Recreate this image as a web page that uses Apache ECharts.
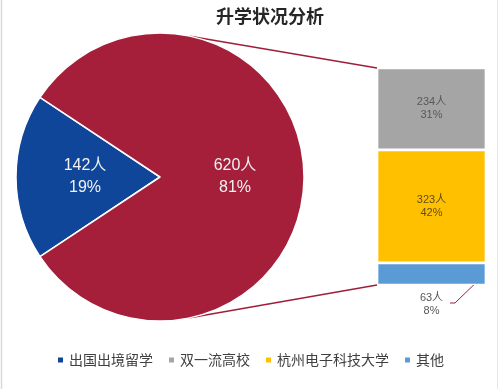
<!DOCTYPE html>
<html>
<head>
<meta charset="utf-8">
<script src="https://cdn.jsdelivr.net/npm/echarts@6/dist/echarts.min.js"></script>
<style>html,body{margin:0;padding:0;background:#fff;}#c{width:500px;height:389px;}</style>
</head>
<body>
<div id="c"></div>
<script>
// ---- data ----
const titleText = '升学状况分析';
const pieNames = ['出国出境留学', '国内升学'];
const pieValues = [142, 620];
const barNames = ['其他', '杭州电子科技大学', '双一流高校']; // bottom to top
const barValues = [63, 323, 234];
const legendNames = ['出国出境留学', '双一流高校', '杭州电子科技大学', '其他'];
const unit = '人';

// ---- styles / layout ----
const pieColors = ['#0F4699', '#A51F3B'];
const barColors = ['#5B9BD5', '#FFC000', '#A5A5A5'];
const barLabelColors = ['#595959', '#5E4E1E', '#595959'];
const cx = 160, cy = 177, R = 144;
const G = { left: 377, top: 68, width: 109, height: 217 };
const lineColor = '#9E1F3A';
const numFont = '"Liberation Sans", "Noto Sans CJK SC", sans-serif';

const total = pieValues.reduce((a, b) => a + b, 0);
const barTotal = barValues.reduce((a, b) => a + b, 0);
const smallFrac = pieValues[0] / total;
const startAngle = 180 + smallFrac * 360 / 2;

const chart = echarts.init(document.getElementById('c'), null, { renderer: 'canvas' });

const barSeries = barNames.map((n, i) => ({
  name: n,
  type: 'bar',
  stack: 'total',
  barWidth: '100%',
  xAxisIndex: 0, yAxisIndex: 0,
  data: [barValues[i]],
  itemStyle: { color: barColors[i], borderColor: '#fff', borderWidth: 1.35 },
  label: {
    show: true,
    position: i === 0 ? 'bottom' : 'inside',
    distance: 6,
    formatter: p => p.value + unit + '\n' + Math.round(p.value / total * 100) + '%',
    fontSize: 11,
    lineHeight: 13,
    color: barLabelColors[i],
    fontFamily: numFont
  }
}));

// connector geometry
const ang = 78 * Math.PI / 180;
const topPt = [cx + R * Math.cos(ang), cy - R * Math.sin(ang)];
const botPt = [cx + R * Math.cos(ang), cy + R * Math.sin(ang)];
const yScale = G.height / barTotal;
const barTopY = G.top;
const barBotY = G.top + G.height;
const smallMidY = barBotY - (barValues[0] / 2) * yScale;

chart.setOption({
  animation: false,
  backgroundColor: '#fff',
  title: {
    text: titleText,
    left: 211, top: 2,
    textStyle: { fontSize: 18, fontWeight: 'bold', color: '#262626', fontFamily: '"Noto Sans CJK SC", sans-serif' }
  },
  legend: {
    data: legendNames,
    left: 'center', top: 348,
    icon: 'rect', itemWidth: 7, itemHeight: 7, itemGap: 14,
    textStyle: { fontSize: 14, color: '#404040', fontFamily: '"Noto Sans CJK SC", sans-serif' },
    selectedMode: false
  },
  grid: { left: G.left, top: G.top, width: G.width, height: G.height, containLabel: false },
  xAxis: { type: 'category', data: [''], show: false },
  yAxis: { type: 'value', min: 0, max: barTotal, show: false },
  series: [
    {
      type: 'pie',
      center: [cx, cy],
      radius: [0, R],
      startAngle: startAngle,
      clockwise: true,
      avoidLabelOverlap: false,
      data: pieNames.map((n, i) => ({ name: n, value: pieValues[i], itemStyle: { color: pieColors[i] } })),
      itemStyle: { borderColor: '#fff', borderWidth: 1.5 },
      label: {
        show: true,
        position: 'inner',
        formatter: p => p.value + unit + '\n' + Math.round(p.percent) + '%',
        fontSize: 16,
        lineHeight: 22,
        color: '#F2F2F2',
        fontFamily: numFont
      },
      labelLine: { show: false },
      emphasis: { disabled: true }
    }
  ].concat(barSeries),
  graphic: [
    { type: 'line', shape: { x1: topPt[0], y1: topPt[1], x2: G.left, y2: barTopY }, style: { stroke: lineColor, lineWidth: 1.5 } },
    { type: 'line', shape: { x1: botPt[0], y1: botPt[1], x2: G.left, y2: barBotY }, style: { stroke: lineColor, lineWidth: 1.5 } },
    { type: 'polyline', shape: { points: [[G.left + G.width - 1, smallMidY], [455, 303], [450, 303]] }, style: { stroke: lineColor, lineWidth: 1, fill: null } },
    { type: 'line', shape: { x1: 1.5, y1: 0, x2: 1.5, y2: 389 }, style: { stroke: '#D9D9D9', lineWidth: 1.5 } },
    { type: 'line', shape: { x1: 497.5, y1: 0, x2: 497.5, y2: 389 }, style: { stroke: '#E6E6E6', lineWidth: 1 } }
  ]
});
</script>
</body>
</html>
